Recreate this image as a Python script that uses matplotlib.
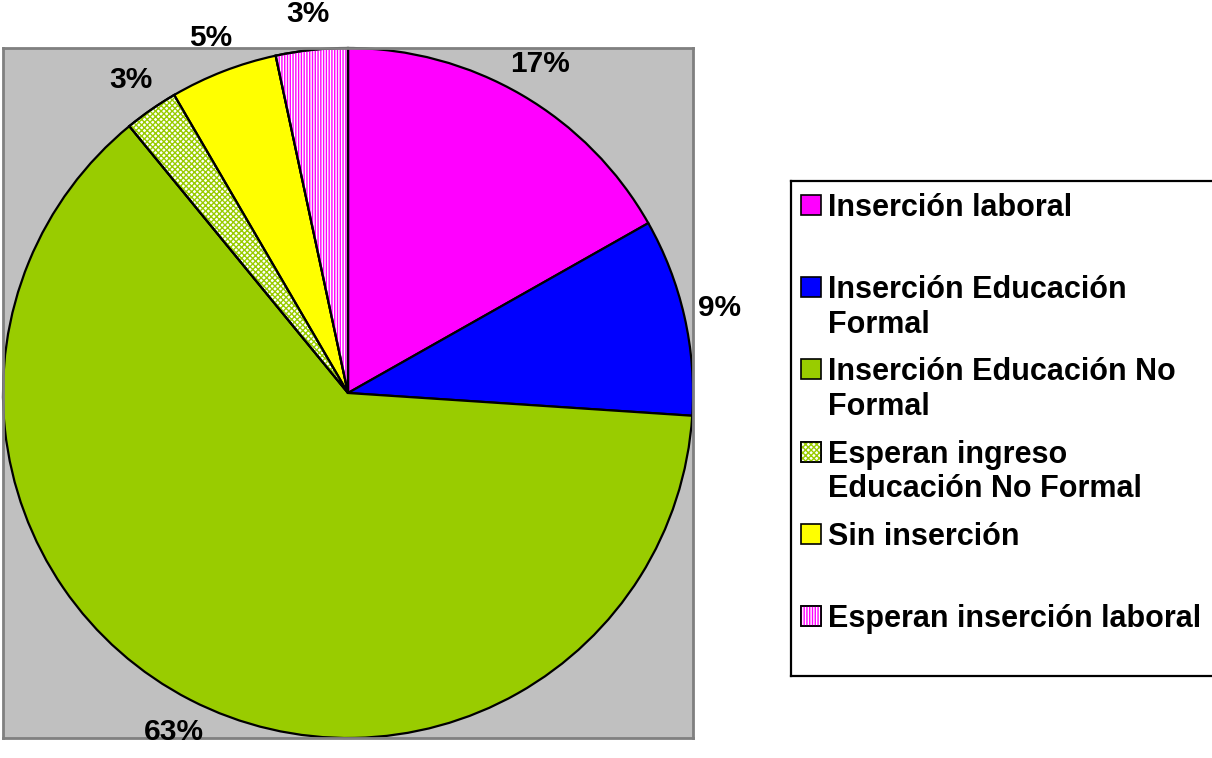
import matplotlib
matplotlib.use('Agg')
import matplotlib.pyplot as plt
from matplotlib.patches import Wedge, Rectangle

# data
labels = ['Inserción laboral',
          'Inserción Educación\nFormal',
          'Inserción Educación No\nFormal',
          'Esperan ingreso\nEducación No Formal',
          'Sin inserción',
          'Esperan inserción laboral']
counts = [20, 11, 75, 3, 6, 4]
colors = ['#ff00ff', '#0000ff', '#99cc00', '#ffffff', '#ffff00', '#ffffff']
hatches = [None, None, None, 'xxxxxx', None, '||||||']
hatch_colors = [None, None, None, '#99cc00', None, '#ff00ff']

W, H = 1212, 758
plt.rcParams['font.family'] = ['Liberation Sans', 'DejaVu Sans']
plt.rcParams['hatch.linewidth'] = 1.0

fig = plt.figure(figsize=(W / 100, H / 100), dpi=100)
fig.patch.set_facecolor('white')

# pie area
ax = fig.add_axes([3 / W, (H - 738) / H, 690 / W, 690 / H])
wedges, texts, autotexts = ax.pie(
    counts, colors=colors, startangle=90, counterclock=False,
    autopct=lambda p: '%d%%' % int(p + 0.5), pctdistance=1.105,
    wedgeprops=dict(edgecolor='black', linewidth=1.6),
    textprops=dict(fontsize=21.5, fontweight='bold', color='black'))
ax.set_frame_on(True)
ax.set_facecolor('#c0c0c0')
for s in ax.spines.values():
    s.set_color('#808080')
    s.set_linewidth(2)
ax.set_xlim(-1, 1)
ax.set_ylim(-1, 1)
ax.set_xticks([])
ax.set_yticks([])
for t in autotexts:
    t.set_zorder(10)

# hatch overlays
for w, h, hc in zip(wedges, hatches, hatch_colors):
    if h is None:
        continue
    ax.add_patch(Wedge(w.center, w.r, w.theta1, w.theta2, facecolor='none',
                       edgecolor=hc, linewidth=0, hatch=h, zorder=w.get_zorder() + 0.1))
    ax.add_patch(Wedge(w.center, w.r, w.theta1, w.theta2, facecolor='none',
                       edgecolor='black', linewidth=1.6, zorder=w.get_zorder() + 0.2))

# legend box, drawn in pixel units
lx0, ly0, ly1 = 791, 181, 676
lw = W - lx0 + 20
lax = fig.add_axes([lx0 / W, (H - ly1) / H, lw / W, (ly1 - ly0) / H])
lax.set_xlim(0, lw)
lax.set_ylim(ly1 - ly0, 0)
lax.set_xticks([])
lax.set_yticks([])
for s in lax.spines.values():
    s.set_color('black')
    s.set_linewidth(1.6)
lax.spines['right'].set_visible(False)

pitch = 82.2
line_h = 34.5
for i, (lab, c, h, hc) in enumerate(zip(labels, colors, hatches, hatch_colors)):
    yc = 205 - ly0 + pitch * i
    lax.add_patch(Rectangle((10, yc - 10), 20, 20, facecolor=c,
                            edgecolor='black', linewidth=1.2))
    if h is not None:
        lax.add_patch(Rectangle((10, yc - 10), 20, 20, facecolor='none',
                                edgecolor=hc, linewidth=0, hatch=h))
        lax.add_patch(Rectangle((10, yc - 10), 20, 20, facecolor='none',
                                edgecolor='black', linewidth=1.2))
    for k, line in enumerate(lab.split('\n')):
        lax.text(37, yc + 11 + k * line_h, line, fontsize=22, fontweight='bold',
                 ha='left', va='baseline')

fig.savefig('out.png', dpi=100)
